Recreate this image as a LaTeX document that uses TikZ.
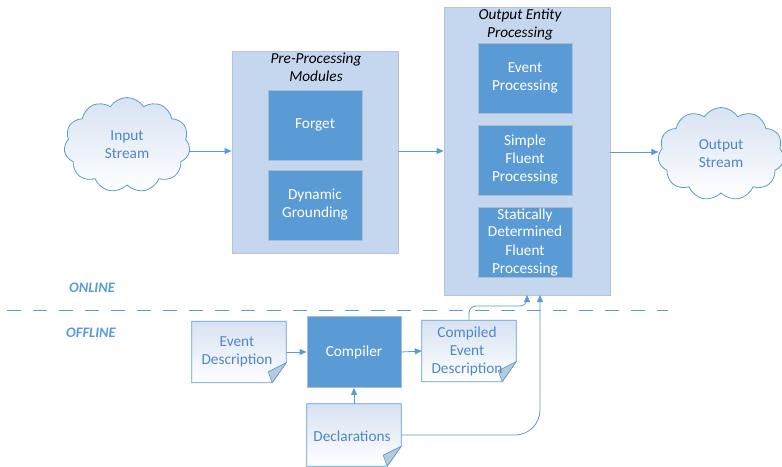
\documentclass[tikz,border=0pt]{standalone}
\usepackage{fontspec}
\setmainfont{Carlito}
\usetikzlibrary{shapes.symbols,arrows.meta,calc}
\definecolor{lineblue}{HTML}{5B9BD5}
\definecolor{outerfill}{HTML}{C5D7EE}
\definecolor{outerdraw}{HTML}{B8C4D2}
\definecolor{innerdraw}{HTML}{A9BCD0}
\definecolor{txtblue}{HTML}{4F86C6}
\definecolor{cloudtop}{HTML}{D7E2F2}
\definecolor{foldfill}{HTML}{B7C9DD}
\tikzset{
  outerbox/.style={draw=outerdraw,fill=outerfill,line width=0.8pt},
  innerbox/.style={draw=innerdraw,fill=lineblue,line width=0.8pt,text=white,align=center,
    font=\fontsize{15.3}{18}\selectfont,inner sep=0pt},
  titletext/.style={font=\fontsize{15.3}{18}\selectfont\itshape,align=center,inner sep=0pt},
  cloudnode/.style={cloud,cloud puffs=11,cloud puff arc=115,aspect=1.35,draw=lineblue,line width=0.8pt,
    top color=cloudtop,bottom color=white,text=txtblue,align=center,
    font=\fontsize{15.3}{18}\selectfont,inner sep=0pt},
  docnode/.style={inner sep=0pt,text=txtblue,align=center,font=\fontsize{15.3}{18}\selectfont},
  conn/.style={draw=lineblue,line width=0.8pt,-{Triangle[length=7pt,width=6pt]}},
  modetext/.style={text=lineblue,font=\fontsize{14.5}{16}\selectfont\bfseries\itshape},
}
\newcommand{\docshape}[1]{%
  \shade[top color=cloudtop,bottom color=white,draw=lineblue,line width=0.8pt]
    (#1.north west) -- (#1.north east) -- ($(#1.south east)+(0,-20)$)
    -- ($(#1.south east)+(-14,0)$) -- (#1.south west) -- cycle;
  \fill[foldfill,draw=lineblue,line width=0.6pt]
    ($(#1.south east)+(0,-20)$) -- ($(#1.south east)+(-14,0)$) -- ($(#1.south east)+(-18,-11)$) -- cycle;
}
\begin{document}
\begin{tikzpicture}[x=1pt,y=-1pt]
\useasboundingbox (0,0) rectangle (782,466);
% outer boxes
\node[outerbox,minimum width=166,minimum height=202] (pre) at (315,152) {};
\node[outerbox,minimum width=166,minimum height=288] (out) at (527,151) {};
\node[titletext] (pret) at (316,67) {Pre-Processing\\Modules};
\node[titletext] (outt) at (520,25) {Output Entity\\Processing};
% inner boxes
\node[innerbox,minimum width=94,minimum height=70] (forget) at (315,125) {Forget};
\node[innerbox,minimum width=94,minimum height=70] (dyn) at (315,205) {Dynamic\\Grounding};
\node[innerbox,minimum width=94,minimum height=70] (ev) at (525,78) {Event\\Processing};
\node[innerbox,minimum width=94,minimum height=70] (sf) at (525,160) {Simple\\Fluent\\Processing};
\node[innerbox,minimum width=94,minimum height=70] (sd) at (525,242) {Statically\\Determined\\Fluent\\Processing};
% clouds
\node[cloudnode,minimum width=126,minimum height=95] (in) at (127,145) {Input\\Stream};
\node[cloudnode,minimum width=126,minimum height=93] (os) at (721,154) {Output\\Stream};
% dashed line
\coordinate (dl) at (7,310);
\coordinate (dr) at (668,310);
\draw[lineblue,line width=0.9pt,dash pattern=on 14pt off 12pt] (dl) -- (dr);
\node[modetext] (online) at (92,288) {ONLINE};
\node[modetext] (offline) at (91,333) {OFFLINE};
% offline nodes
\node[innerbox,minimum width=94,minimum height=71] (comp) at (354,352) {Compiler};
\node[docnode,minimum width=94,minimum height=61] (ed) at (239,352) {};
\node[docnode,minimum width=94,minimum height=61] (ced) at (469,351) {};
\node[docnode,minimum width=94,minimum height=62] (decl) at (354,435) {};
\docshape{ed}
\docshape{ced}
\docshape{decl}
\node[docnode] (edt) at (237,352) {Event\\Description};
\node[docnode] (cedt) at (467,351) {Compiled\\Event\\Description};
\node[docnode] (declt) at (352,436) {Declarations};
% connectors
\draw[conn] (in.east |- 0,151) -- (pre.west |- 0,151);
\draw[conn] (pre.east |- 0,151) -- (out.west |- 0,151);
\draw[conn] (out.east |- 0,152) -- (os.west |- 0,152);
\draw[conn] (ed.east) -- (comp.west);
\draw[conn] (comp.east) -- (ced.west);
\draw[conn] (decl.north) -- (comp.south);
\draw[conn,rounded corners=7pt] (ced.north) -- (469,306) -- (527,306) -- (527,295);
\draw[conn,rounded corners=25pt] (decl.east |- 0,435) -- (540,435) -- (540,295);
\end{tikzpicture}
\end{document}
